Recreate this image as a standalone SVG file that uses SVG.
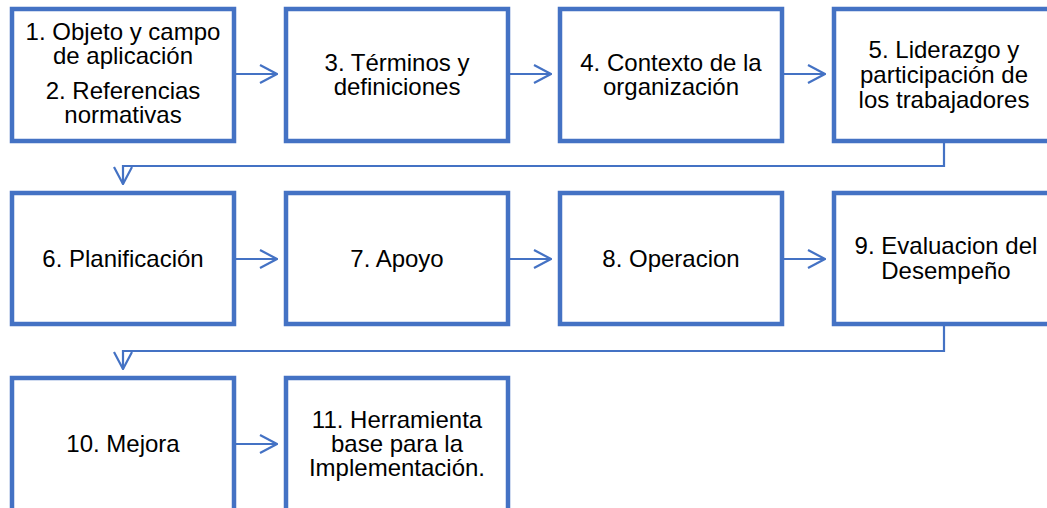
<svg xmlns="http://www.w3.org/2000/svg" width="1047" height="508" viewBox="0 0 1047 508">
<defs>
<style>
.box{fill:#fff;stroke:#4472C4;stroke-width:4.5}
.t{font-family:"Liberation Sans",Arial,sans-serif;font-size:24px;fill:#000;text-anchor:middle}
.c{fill:none;stroke:#4472C4;stroke-width:2.2}
</style>
<marker id="ah" viewBox="0 0 19 20" refX="18" refY="10" markerWidth="19" markerHeight="20" markerUnits="userSpaceOnUse" orient="auto">
<path d="M1,1 L18,10 L1,19" fill="none" stroke="#4472C4" stroke-width="2.2"/>
</marker>
</defs>
<rect width="1047" height="508" fill="#fff"/>
<g id="connectors">
<line class="c" x1="236" y1="74" x2="277" y2="74" marker-end="url(#ah)"/>
<line class="c" x1="510" y1="74" x2="551" y2="74" marker-end="url(#ah)"/>
<line class="c" x1="784" y1="74" x2="825" y2="74" marker-end="url(#ah)"/>
<polyline class="c" points="944,143 944,166 123,166 123,184" marker-end="url(#ah)"/>
<line class="c" x1="236" y1="259" x2="277" y2="259" marker-end="url(#ah)"/>
<line class="c" x1="510" y1="259" x2="551" y2="259" marker-end="url(#ah)"/>
<line class="c" x1="784" y1="259" x2="825" y2="259" marker-end="url(#ah)"/>
<polyline class="c" points="944,326 944,351 123,351 123,369" marker-end="url(#ah)"/>
<line class="c" x1="236" y1="444" x2="277" y2="444" marker-end="url(#ah)"/>
</g>
<g id="n1"><rect class="box" x="12" y="9" width="222" height="132"/>
<text class="t" x="123" y="40">1. Objeto y campo</text><text class="t" x="123" y="64">de aplicación</text>
<text class="t" x="123" y="99">2. Referencias</text><text class="t" x="123" y="123">normativas</text></g>
<g id="n3"><rect class="box" x="286" y="9" width="222" height="132"/>
<text class="t" x="397" y="71">3. Términos y</text><text class="t" x="397" y="95">definiciones</text></g>
<g id="n4"><rect class="box" x="560" y="9" width="222" height="132"/>
<text class="t" x="671" y="71">4. Contexto de la</text><text class="t" x="671" y="95">organización</text></g>
<g id="n5"><rect class="box" x="834" y="9" width="222" height="132"/>
<text class="t" x="944" y="58">5. Liderazgo y</text><text class="t" x="944" y="83">participación de</text><text class="t" x="944" y="108">los trabajadores</text></g>
<g id="n6"><rect class="box" x="12" y="193" width="222" height="131"/>
<text class="t" x="123" y="267">6. Planificación</text></g>
<g id="n7"><rect class="box" x="286" y="193" width="222" height="131"/>
<text class="t" x="397" y="267">7. Apoyo</text></g>
<g id="n8"><rect class="box" x="560" y="193" width="222" height="131"/>
<text class="t" x="671" y="267">8. Operacion</text></g>
<g id="n9"><rect class="box" x="834" y="193" width="222" height="131"/>
<text class="t" x="946" y="254">9. Evaluacion del</text><text class="t" x="946" y="279">Desempeño</text></g>
<g id="n10"><rect class="box" x="12" y="378" width="222" height="140"/>
<text class="t" x="123" y="452">10. Mejora</text></g>
<g id="n11"><rect class="box" x="286" y="378" width="222" height="140"/>
<text class="t" x="397" y="428">11. Herramienta</text><text class="t" x="397" y="452">base para la</text><text class="t" x="397" y="476">Implementación.</text></g>
</svg>
